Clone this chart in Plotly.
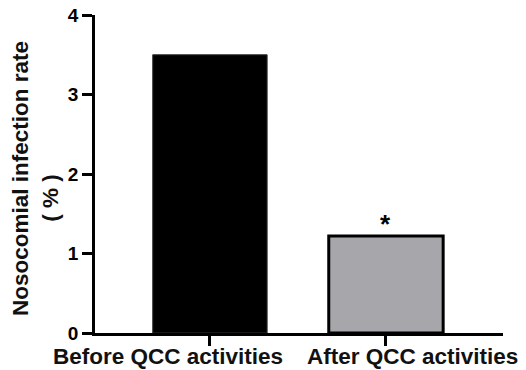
import plotly.graph_objects as go

categories = ["Before QCC activities", "After QCC activities"]
values = [3.5, 1.22]
colors = ["#000000", "#a7a6ab"]
y_ticks = [0, 1, 2, 3, 4]
y_title_lines = ["Nosocomial infection rate", "( % )"]
annotation_text = "*"

FAM = "Liberation Sans, Arial"
fig = go.Figure()
fig.add_trace(go.Bar(
    x=[0, 1], y=values, width=0.65,
    marker=dict(color=colors, line=dict(color=["#333333", "#000000"], width=[1, 3])),
))
fig.add_annotation(x=1, y=values[1], text="<b>" + annotation_text + "</b>", showarrow=False,
                   yanchor="bottom", yshift=-5,
                   font=dict(family=FAM, size=26, color="black"))

# category labels (offset from ticks as in the reference)
label_x = [0.179, 0.777]
for cx, c in zip(label_x, categories):
    fig.add_annotation(xref="paper", yref="paper", x=cx, y=0, yshift=-23,
                       xanchor="center", yanchor="middle", showarrow=False,
                       text="<b>" + c + "</b>",
                       font=dict(family=FAM, size=22.5, color="#111111"))

# y-axis title lines
for (tx, ty), t in zip([(-0.184, 0.487), (-0.108, 0.425)], y_title_lines):
    fig.add_annotation(xref="paper", yref="paper", x=tx, y=ty, textangle=-90,
                       xanchor="center", yanchor="middle", showarrow=False,
                       text="<b>" + t + "</b>",
                       font=dict(family=FAM, size=22.5, color="#111111"))

tickfont = dict(family=FAM, size=19, color="black")
fig.update_layout(
    width=526, height=370,
    margin=dict(l=95, r=23, t=15, b=37),
    plot_bgcolor="white", paper_bgcolor="white",
    showlegend=False,
    xaxis=dict(
        range=[-0.653, 1.665], tickvals=[0, 1], ticktext=["", ""],
        showline=True, linecolor="black", linewidth=2.5,
        ticks="outside", ticklen=10, tickwidth=2.5, tickcolor="black",
        showgrid=False, zeroline=False, automargin=False,
    ),
    yaxis=dict(
        range=[0, 4], tickvals=y_ticks,
        ticktext=["<b>%d</b>" % t for t in y_ticks],
        showline=True, linecolor="black", linewidth=2.5,
        ticks="outside", ticklen=10, tickwidth=2.5, tickcolor="black",
        showgrid=False, zeroline=False, tickfont=tickfont, automargin=False,
        ticklabeloverflow="allow",
    ),
)
fig.write_html("out.html", config={"displayModeBar": False},
               post_script="document.body.style.margin='0';")
